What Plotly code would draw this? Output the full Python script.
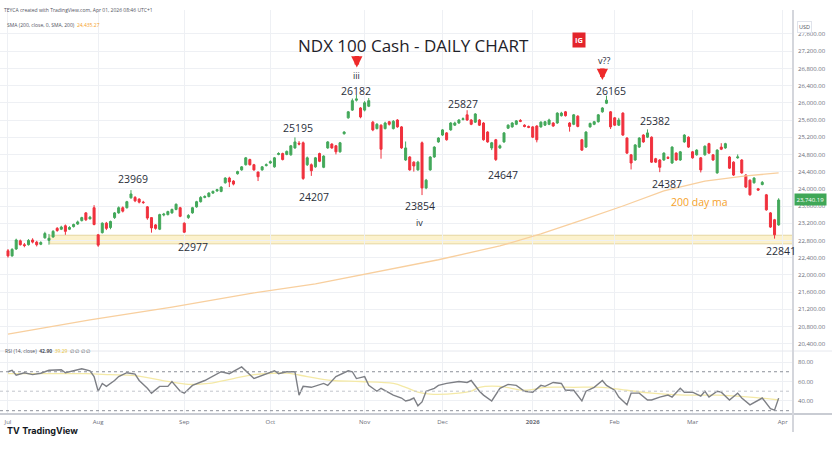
import plotly.graph_objects as go

# ---------------- data ----------------
bar_idx = list(range(189))
opens = [22560,22440,22600,22790,22700,22700,22810,22760,22710,22860,22800,22880,23080,23060,23140,23060,23120,23180,23260,23440,23300,23560,
         22930,22980,23200,23100,23330,23440,23560,23560,23790,23800,23760,23690,23580,23330,23160,23060,23390,23400,23440,23520,23560,
         23200,23330,23440,23580,23700,23800,23820,23900,23950,23940,24140,24250,24180,24350,24440,24560,24680,24560,24390,24440,24540,
         24600,24510,24800,24820,24800,24790,24950,25060,25070,24560,24560,24510,24820,24500,24950,25040,25000,24860,25280,25650,25830,26060,25880,
         25830,25920,25550,25400,25480,25400,25560,25400,25600,25440,24670,24740,24620,24440,25070,24020,24440,24740,25090,
         25250,25300,25370,25480,25530,25610,25720,25600,25550,25600,25530,25320,24950,25140,24950,25090,25410,25440,25500,25590,25480,25450,
         25440,25460,25440,25480,25500,25530,25530,25700,25790,25530,25500,25690,25140,24970,25440,25500,25560,25790,25990,25790,
         25650,25480,25760,25180,24790,24670,24970,25250,25200,25200,24700,24670,24670,24730,24600,24830,24670,25090,25200,
         24860,24790,24720,24790,25050,24790,24370,24970,24950,24740,24620,24720,24670,24320,24200,24140,24000,24100,23860,23440,23280,23160]
highs = [22600,22620,22840,22820,22740,22830,22850,22790,22780,23000,22950,23040,23110,23140,23170,23130,23190,23260,23350,23460,23370,23620,
         22950,23220,23230,23260,23460,23590,23590,23720,23969,23830,23780,23720,23600,23340,23180,23420,23440,23490,23540,23660,23580,
         23220,23410,23580,23720,23830,23850,23920,23960,24000,24060,24270,24280,24200,24420,24530,24740,24700,24580,24400,24530,24590,
         24660,24740,24850,24840,24890,25020,25195,25110,25100,24750,24590,24740,24840,24780,25110,25060,25020,25090,25340,25810,26100,26182,25900,
         26040,26110,25580,25530,25500,25560,25580,25600,25620,25460,25100,24760,24640,24650,25100,24230,24760,24990,25200,
         25390,25320,25550,25560,25620,25660,25827,25620,25760,25620,25550,25340,25090,25160,25030,25320,25500,25550,25600,25620,25500,25470,
         25460,25480,25570,25580,25630,25550,25780,25790,25810,25550,25740,25710,25160,25340,25540,25580,25740,25900,26165,25810,
         25670,25650,25780,25200,24810,25040,25200,25270,25382,25220,24720,24690,24850,24760,24990,24850,24880,25270,25220,
         24880,24920,24740,25010,25070,24810,24920,25060,25070,24760,24640,24800,24690,24340,24220,24270,24020,24180,23880,23460,23300,23780]
lows = [22400,22420,22580,22680,22640,22680,22730,22660,22690,22840,22700,22860,23000,23040,22930,23040,23100,23160,23240,23250,23290,23150,
        22650,22960,23040,23060,23300,23420,23450,23540,23770,23690,23660,23650,23280,22980,23050,23040,23360,23380,23420,23500,23340,
        22977,23300,23420,23560,23680,23780,23800,23880,23930,23920,24120,24040,24080,24330,24420,24540,24540,24420,24180,24420,24520,
        24580,24490,24780,24660,24780,24770,24930,25010,24207,24530,24300,24490,24620,24480,24930,24930,24800,24840,25260,25630,25810,26030,25640,
        25800,25900,25340,25380,24700,25380,25470,25380,25420,24930,24650,24420,24400,24420,23854,23990,24420,24720,25070,
        25230,25120,25350,25460,25510,25590,25580,25480,25530,25460,25120,25070,24900,24647,24930,25070,25390,25420,25480,25550,25430,25410,
        25180,25080,25420,25460,25480,25440,25510,25680,25680,25330,25480,25430,24880,24950,25420,25480,25540,25770,25970,25390,
        25460,25460,25230,24810,24450,24650,24950,25070,25180,24600,24600,24387,24650,24690,24580,24650,24650,25070,24950,
        24700,24770,24380,24770,24810,24650,24350,24900,24930,24460,24300,24700,24350,24020,23840,24120,23950,24080,23490,23090,22841,23140]
closes = [22440,22590,22810,22700,22680,22800,22760,22700,22750,22960,22850,23010,23030,23110,23010,23100,23170,23230,23330,23280,23340,23170,
          22690,23200,23080,23240,23440,23560,23480,23700,23880,23720,23690,23680,23320,23090,23080,23400,23410,23470,23520,23640,23360,
          22990,23380,23560,23700,23800,23820,23900,23940,23980,24040,24250,24160,24110,24400,24510,24720,24560,24440,24280,24510,24560,
          24630,24720,24820,24680,24870,25000,25090,25040,24240,24720,24420,24720,24640,24760,25090,24950,24860,25070,25320,25790,26050,26090,25670,
          26000,26050,25370,25500,24920,25530,25500,25570,25440,24950,24950,24440,24530,24620,24020,24200,24740,24970,25180,
          25370,25140,25530,25530,25600,25630,25600,25500,25740,25480,25140,25090,25070,24680,25000,25300,25480,25530,25580,25570,25450,25430,
          25200,25140,25550,25560,25600,25460,25760,25760,25700,25450,25720,25450,24900,25320,25520,25560,25720,25880,26060,25440,
          25480,25600,25250,24830,24600,25020,25180,25090,25300,24620,24620,24500,24830,24710,24970,24670,24860,25250,24970,
          24720,24900,24440,24990,24830,24670,24900,24920,25050,24480,24320,24740,24370,24040,23860,24250,23970,24150,23510,23110,22930,23740]

sma_idx = [0, 20, 40, 60, 75, 90, 105, 120, 130, 140, 150, 160, 170, 180, 188]
sma_val = [20620, 20950, 21250, 21580, 21790, 22070, 22350, 22670, 22950, 23270, 23600, 23950, 24180, 24300, 24370]

rsi_idx = [0,1,2,4,6,8,10,13,14,18,20,21,22,23,24,26,27,29,31,32,34,35,37,39,40,42,43,45,48,52,54,57,60,62,65,66,68,70,
           71,72,74,77,78,80,83,84,85,87,88,90,91,94,96,97,98,99,100,101,102,104,105,107,109,110,112,113,115,116,118,120,
           122,124,126,128,130,131,133,135,136,138,140,141,143,145,146,148,149,151,152,154,156,157,159,161,162,164,165,167,
           169,170,171,173,174,176,178,179,181,183,184,186,187,188]
rsi_val = [70,71.5,66.5,69,67,68.5,71.5,72,69,73,71,65,50,58,55,61,65,69,67.5,61,53,48,55,55,60,50,48,56,61,70,68,75,63,66,71,68,70,70,
           46,55,54,58,56,65,71,70,63,65,56,50,53,46,43,40,41,43,35,39,50,53,56,58,59,60,59,61,50,46,40,53,
           57,56,50,49,56,55,59,58,51,51,40,50,54,61,56,51,44,36,48,48,41,41,44,46,44,53,49,49,
           45,50,44,50,49,41,48,43,36,41,43,32,30.5,42.9]

rsima_idx = [0, 10, 19, 25, 31, 39, 44, 49, 55, 60, 68, 73, 79, 86, 94, 97, 100, 103, 110, 113, 115, 120, 126, 131, 138, 145, 151, 157, 165, 173, 181, 188]
rsima_val = [68, 68, 68, 67, 66, 60, 57, 58, 63, 67, 68.5, 65, 61, 60, 58, 54, 49, 47, 48, 50, 54, 55, 51, 54, 54, 54, 51, 48, 46, 46, 44, 41]

month_idx = [0, 22, 43, 64, 87, 106, 128, 148, 167, 189]
month_lbl = ["Jul", "Aug", "Sep", "Oct", "Nov", "Dec", "<b>2026</b>", "Feb", "Mar", "Apr"]
price_ticks = [20400, 20800, 21200, 21600, 22000, 22400, 22800, 23200, 23600, 24000, 24400, 24800,
               25200, 25600, 26000, 26400, 26800, 27200, 27600]
rsi_ticks = [40, 60, 80]

support_low, support_high = 22720, 22920
last_price = "23,740.19"

# labels: (text, bar index, price, color, size)
labels = [
    ("26182", 85, 26274, "#2a2e39", 10.5), ("iii", 85.1, 26630, "#2a2e39", 9),
    ("25195", 70.7, 25414, "#2a2e39", 10.5), ("23969", 30.5, 24228, "#2a2e39", 10.5),
    ("24207", 74.6, 23809, "#2a2e39", 10.5), ("23854", 100.5, 23600, "#2a2e39", 10.5),
    ("iv", 100.3, 23228, "#2a2e39", 9), ("25827", 110.9, 25972, "#2a2e39", 10.5),
    ("24647", 120.8, 24321, "#2a2e39", 10.5), ("v??", 145.3, 26990, "#2a2e39", 9),
    ("26165", 147.1, 26274, "#2a2e39", 10.5), ("25382", 157.8, 25577, "#2a2e39", 10.5),
    ("24387", 160.7, 24112, "#2a2e39", 10.5), ("22977", 45.1, 22647, "#2a2e39", 10.5),
    ("22841", 188.5, 22553, "#2a2e39", 10.5), ("200 day ma", 168.8, 23693, "#f5a12a", 10.5),
]
# arrow tips (bar index, price of arrow tip)
arrows = [(85.1, 26820), (145.0, 26530)]

# ---------------- figure ----------------
W, H = 832, 453
UP, DN = "#43a85a", "#f0313d"
X_RIGHT = 793 / W
P_TOP, P_BOT, R_BOT = 1 - 10 / H, 1 - 351 / H, 1 - 414 / H
XR = [-1.95, 191.5]

fig = go.Figure()
fig.add_trace(go.Candlestick(
    x=bar_idx, open=opens, high=highs, low=lows, close=closes,
    increasing=dict(line=dict(color=UP, width=1), fillcolor=UP),
    decreasing=dict(line=dict(color=DN, width=1), fillcolor=DN),
    whiskerwidth=0, xaxis="x", yaxis="y", showlegend=False, hoverinfo="skip"))
fig.add_trace(go.Scatter(x=sma_idx, y=sma_val, mode="lines", line=dict(color="#f8cf9e", width=1.3),
                         xaxis="x", yaxis="y", showlegend=False, hoverinfo="skip"))
fig.add_trace(go.Scatter(x=rsima_idx, y=rsima_val, mode="lines", line=dict(color="#f4e9a6", width=1.3, shape="spline"),
                         xaxis="x2", yaxis="y2", showlegend=False, hoverinfo="skip"))
fig.add_trace(go.Scatter(x=rsi_idx, y=rsi_val, mode="lines", line=dict(color="#7d7f85", width=1.4),
                         xaxis="x2", yaxis="y2", showlegend=False, hoverinfo="skip"))

grid = "#eef0f4"
axfont = dict(family="Open Sans", size=6, color="#6a6d78")
fig.update_layout(
    width=W, height=H, margin=dict(l=0, r=0, t=0, b=0),
    paper_bgcolor="white", plot_bgcolor="white",
    xaxis=dict(domain=[0, X_RIGHT], range=XR, anchor="y", showticklabels=False, tickvals=month_idx,
               showgrid=True, gridcolor=grid, zeroline=False, rangeslider=dict(visible=False), fixedrange=True),
    xaxis2=dict(domain=[0, X_RIGHT], range=XR, anchor="y2", tickvals=month_idx, ticktext=month_lbl,
                showgrid=True, gridcolor=grid, zeroline=False, tickfont=axfont, ticks="", ticklabelstandoff=3),
    yaxis=dict(domain=[P_BOT, P_TOP], range=[20228, 28158], side="right", anchor="x", tickvals=price_ticks,
               tickformat=",.2f", tickfont=axfont, showgrid=True, gridcolor=grid, zeroline=False, ticks="",
               ticklabelstandoff=4),
    yaxis2=dict(domain=[R_BOT, P_BOT], range=[26.6, 91.3], side="right", anchor="x2", tickvals=rsi_ticks,
                tickformat=".2f", tickfont=axfont, showgrid=True, gridcolor=grid, zeroline=False, ticks="",
                ticklabelstandoff=4),
)

shapes = [
    dict(type="rect", xref="x", yref="y", x0=10.2, x1=XR[1], y0=support_low, y1=support_high,
         fillcolor="rgba(252,241,200,0.9)", line=dict(color="#e4d6a0", width=1), layer="below"),
    dict(type="line", xref="paper", yref="y2", x0=0, x1=X_RIGHT, y0=70, y1=70, line=dict(color="#8d909a", width=1, dash="dot")),
    dict(type="line", xref="paper", yref="y2", x0=0, x1=X_RIGHT, y0=50, y1=50, line=dict(color="#c3c5cc", width=1, dash="dot")),
    dict(type="line", xref="paper", yref="y2", x0=0, x1=X_RIGHT, y0=30, y1=30, line=dict(color="#8d909a", width=1, dash="dot")),
    dict(type="line", xref="paper", yref="paper", x0=0, x1=1, y0=P_BOT, y1=P_BOT, line=dict(color="#e6e8ee", width=1)),
    dict(type="line", xref="paper", yref="paper", x0=0, x1=1, y0=R_BOT, y1=R_BOT, line=dict(color="#c9ccd3", width=2)),
    dict(type="line", xref="paper", yref="paper", x0=X_RIGHT, x1=X_RIGHT, y0=1 - 432 / H, y1=P_TOP,
         line=dict(color="#d4d6dc", width=2)),
]
fig.update_layout(shapes=shapes)

ann = []
for t, xi, yp, c, s in labels:
    ann.append(dict(text=t, x=xi, y=yp, xref="x", yref="y", showarrow=False,
                    font=dict(family="Open Sans", size=s, color=c)))
for xi, yp in arrows:
    ann.append(dict(text="", x=xi, y=yp, xref="x", yref="y", showarrow=True, ax=0, ay=-13,
                    arrowhead=2, arrowsize=0.5, arrowwidth=4.5, arrowcolor="#ee2a2a"))

ann += [
    dict(text="NDX 100 Cash - DAILY CHART", x=413 / W, y=1 - 32 / H, xref="paper", yref="paper", showarrow=False,
         font=dict(family="Open Sans", size=17, color="#1f2229")),
    dict(text="<b>IG</b>", x=586 / W, y=1 - 32 / H, xref="paper", yref="paper", showarrow=False,
         font=dict(family="Open Sans", size=7.5, color="white"), bgcolor="#e3242b", borderpad=2),
    dict(text="TEYCA created with TradingView.com, Apr 01, 2026 08:46 UTC+1", x=2 / W, y=1 - 5 / H,
         xref="paper", yref="paper", xanchor="left", showarrow=False,
         font=dict(family="Open Sans", size=5, color="#50535e")),
    dict(text="SMA (200, close, 0, SMA, 200)  <span style='color:#f5a12a'>24,435.27</span>", x=5 / W, y=1 - 20 / H,
         xref="paper", yref="paper", xanchor="left", showarrow=False,
         font=dict(family="Open Sans", size=5, color="#50535e")),
    dict(text="RSI (14, close)  <b>42.90</b>  <span style='color:#e8c33a'>39.29</span>  ∅ ∅ ∅ ∅", x=3 / W, y=1 - 356 / H,
         xref="paper", yref="paper", xanchor="left", showarrow=False,
         font=dict(family="Open Sans", size=5, color="#50535e")),
    dict(text="USD", x=797 / W, y=1 - 21 / H, xref="paper", yref="paper", xanchor="left", showarrow=False,
         font=dict(family="Open Sans", size=5.5, color="#50535e"), bordercolor="#e0e3eb", borderwidth=1,
         borderpad=1),
    dict(text=last_price, x=794 / W, y=closes[-1], xref="paper", yref="y", xanchor="left", showarrow=False,
         font=dict(family="Open Sans", size=6, color="white"), bgcolor="#3fa757", borderpad=1.5),
    dict(text="<b>TV</b> <b>TradingView</b>", x=5 / W, y=1 - 438 / H, xref="paper", yref="paper",
         xanchor="left", showarrow=False, font=dict(family="Inter", size=9, color="#131722")),
]
fig.update_layout(annotations=ann)

fig.write_html("out.html", config={"displayModeBar": False},
               post_script="document.body.style.margin='0px';document.body.style.padding='0px';")
